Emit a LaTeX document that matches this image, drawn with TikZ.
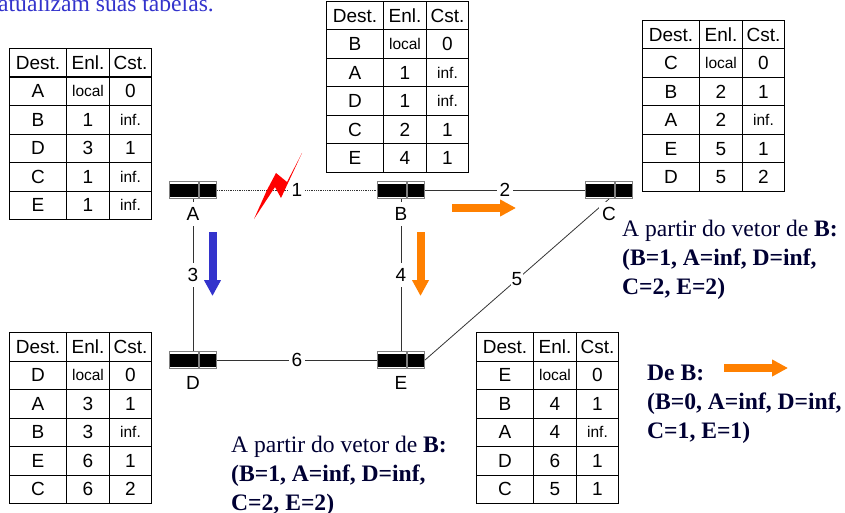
\documentclass[tikz,border=0pt]{standalone}
\usepackage{fontspec}
\usepackage{tikz}
\usetikzlibrary{matrix,arrows.meta}
\setmainfont{Liberation Sans}
\newfontfamily\timesfont{Liberation Serif}
\definecolor{linkblue}{HTML}{3333CC}
\definecolor{linkorange}{HTML}{FF8000}
\definecolor{notenavy}{HTML}{000033}
\tikzset{
  routetab/.style={matrix of nodes,inner sep=0pt,outer sep=0pt,anchor=north west,
    row sep=-1pt,column sep=-1pt,
    nodes={draw,line width=1pt,inner sep=0pt,outer sep=0pt,anchor=center,
      minimum height=28.5pt,font=\fontsize{19}{19}\selectfont},
    column 1/.style={nodes={minimum width=57pt}},
    column 2/.style={nodes={minimum width=43pt}},
    column 3/.style={nodes={minimum width=42pt}}},
  smtxt/.style={font=\fontsize{15.5}{15.5}\selectfont},
  router/.style={draw=gray,fill=black,line width=1pt,minimum width=47pt,minimum height=17pt,
    inner sep=0pt,outer sep=0.5pt,
    path picture={
      \fill[white] ([yshift=-0.5pt]path picture bounding box.north west) rectangle ([yshift=-2pt]path picture bounding box.north east);
      \fill[white] ([yshift=0.5pt]path picture bounding box.south west) rectangle ([yshift=2pt]path picture bounding box.south east);
      \draw[gray,line width=1.2pt] ([xshift=6pt]path picture bounding box.north) -- ([xshift=6pt]path picture bounding box.south);}},
  rlabel/.style={fill=white,inner xsep=3pt,inner ysep=5pt,font=\fontsize{19}{19}\selectfont},
  link/.style={line width=0.8pt,draw=black!80},
  bigarrow/.style={line width=8pt,-{Triangle[length=16pt,width=16pt]}},
  note/.style={anchor=north west,align=left,inner sep=0pt,text=notenavy,
    font=\timesfont\fontsize{23.6}{29}\selectfont},
}
\begin{document}
\begin{tikzpicture}[x=1pt,y=-1pt]
\useasboundingbox (0,0) rectangle (845,513);
% routers
\node[router] (A) at (193,190) {};
\node[router] (B) at (401,190) {};
\node[router] (C) at (609,190) {};
\node[router] (D) at (193,360) {};
\node[router] (E) at (401,360) {};
% links
\draw[link,densely dotted] (A) -- node[rlabel] (cost1) {1} (B);
\draw[link] (B) -- node[rlabel] (cost2) {2} (C);
\draw[link] (A.south) -- node[rlabel,pos=0.5] (cost3) {3} (D.north);
\draw[link] (B.south) -- node[rlabel,pos=0.5] (cost4) {4} (E.north);
\draw[link] (E.east) -- node[rlabel,pos=0.5,inner sep=1pt] (cost5) {5} (C.south);
\draw[link] (D) -- node[rlabel] (cost6) {6} (E);
% router names
\node[rlabel] (nameA) at (193,214) {A};
\node[rlabel] (nameB) at (401,214) {B};
\node[rlabel] (nameC) at (609,214) {C};
\node[rlabel] (nameD) at (193,383) {D};
\node[rlabel] (nameE) at (401,383) {E};
% broken link
\fill[red] (302,153)--(281,198)--(275,187)--(254,219)--(267,190)--(276,173)--(287,182)--cycle;
% update arrows
\coordinate (blueS) at (212.5,232);
\coordinate (blueT) at (212.5,296);
\coordinate (orangeS) at (420.5,232);
\coordinate (orangeT) at (420.5,296);
\coordinate (horizS) at (452,208);
\coordinate (horizT) at (516,208);
\coordinate (legendS) at (724,368);
\coordinate (legendT) at (788,368);
\draw[bigarrow,linkblue] (blueS) -- (blueT);
\draw[bigarrow,linkorange] (orangeS) -- (orangeT);
\draw[bigarrow,linkorange] (horizS) -- (horizT);
\draw[bigarrow,linkorange] (legendS) -- (legendT);
% tables
\matrix[routetab] (tabA) at (9,48) {
Dest. & Enl. & Cst. \\
A & |[smtxt]| local & 0 \\
B & 1 & |[smtxt]| inf. \\
D & 3 & 1 \\
C & 1 & |[smtxt]| inf. \\
E & 1 & |[smtxt]| inf. \\
};
\matrix[routetab] (tabB) at (326,1) {
Dest. & Enl. & Cst. \\
B & |[smtxt]| local & 0 \\
A & 1 & |[smtxt]| inf. \\
D & 1 & |[smtxt]| inf. \\
C & 2 & 1 \\
E & 4 & 1 \\
};
\matrix[routetab] (tabC) at (642,20) {
Dest. & Enl. & Cst. \\
C & |[smtxt]| local & 0 \\
B & 2 & 1 \\
A & 2 & |[smtxt]| inf. \\
E & 5 & 1 \\
D & 5 & 2 \\
};
\matrix[routetab] (tabD) at (9,332) {
Dest. & Enl. & Cst. \\
D & |[smtxt]| local & 0 \\
A & 3 & 1 \\
B & 3 & |[smtxt]| inf. \\
E & 6 & 1 \\
C & 6 & 2 \\
};
\matrix[routetab] (tabE) at (476,332) {
Dest. & Enl. & Cst. \\
E & |[smtxt]| local & 0 \\
B & 4 & 1 \\
A & 4 & |[smtxt]| inf. \\
D & 6 & 1 \\
C & 5 & 1 \\
};
% texts
\node[anchor=base west,inner sep=0pt,text=linkblue,font=\timesfont\fontsize{23.6}{23.6}\selectfont] (topnote) at (-2,12) {atualizam suas tabelas.};
\node[note] (noteC) at (622,220) {A partir do vetor de \textbf{B:}\\\textbf{(B=1, A=inf, D=inf,}\\\textbf{C=2, E=2)}};
\node[note] (noteD) at (231,436) {A partir do vetor de \textbf{B:}\\\textbf{(B=1, A=inf, D=inf,}\\\textbf{C=2, E=2)}};
\node[note] (noteE) at (647,365) {\textbf{De B:}\\\textbf{(B=0, A=inf, D=inf,}\\\textbf{C=1, E=1)}};
\end{tikzpicture}
\end{document}
